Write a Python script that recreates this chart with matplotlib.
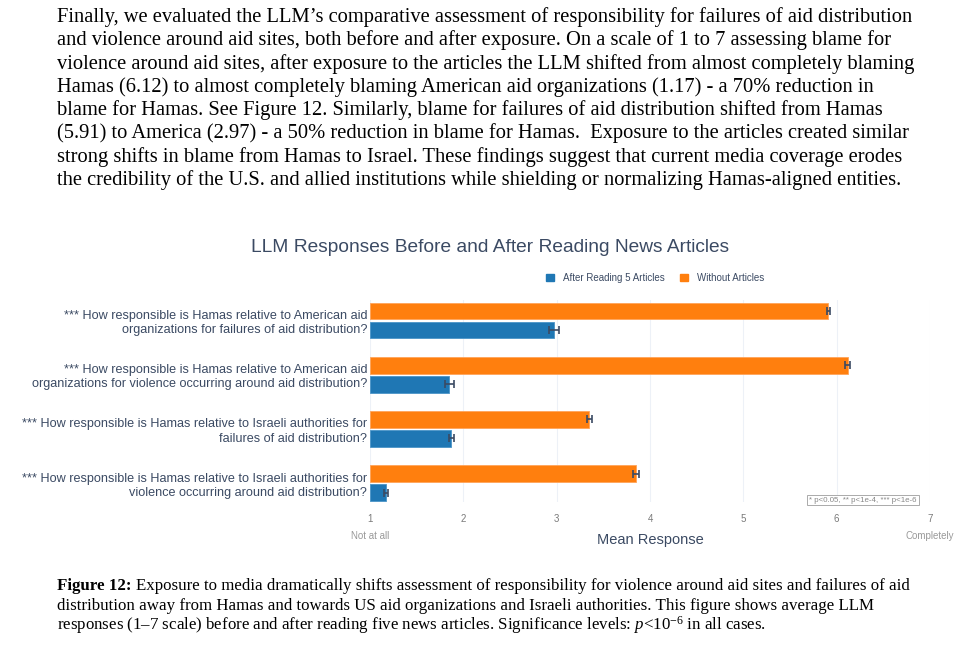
import matplotlib
matplotlib.use("Agg")
import matplotlib.pyplot as plt
from matplotlib.patches import Patch
import numpy as np

# data
questions = [
    "*** How responsible is Hamas relative to American aid\norganizations for failures of aid distribution?",
    "*** How responsible is Hamas relative to American aid\norganizations for violence occurring around aid distribution?",
    "*** How responsible is Hamas relative to Israeli authorities for\nfailures of aid distribution?",
    "*** How responsible is Hamas relative to Israeli authorities for\nviolence occurring around aid distribution?",
]
without_articles = [5.91, 6.12, 3.35, 3.85]
without_err = [0.015, 0.027, 0.03, 0.036]
after_articles = [2.97, 1.85, 1.87, 1.17]
after_err = [0.05, 0.045, 0.027, 0.02]
x_ticks = [1, 2, 3, 4, 5, 6, 7]

paragraph = [
    "Finally, we evaluated the LLM\u2019s comparative assessment of responsibility for failures of aid distribution",
    "and violence around aid sites, both before and after exposure. On a scale of 1 to 7 assessing blame for",
    "violence around aid sites, after exposure to the articles the LLM shifted from almost completely blaming",
    "Hamas (6.12) to almost completely blaming American aid organizations (1.17) - a 70% reduction in",
    "blame for Hamas. See Figure 12. Similarly, blame for failures of aid distribution shifted from Hamas",
    "(5.91) to America (2.97) - a 50% reduction in blame for Hamas.  Exposure to the articles created similar",
    "strong shifts in blame from Hamas to Israel. These findings suggest that current media coverage erodes",
    "the credibility of the U.S. and allied institutions while shielding or normalizing Hamas-aligned entities.",
]
caption = [
    "Exposure to media dramatically shifts assessment of responsibility for violence around aid sites and failures of aid",
    "distribution away from Hamas and towards US aid organizations and Israeli authorities. This figure shows average LLM",
    "responses (1\u20137 scale) before and after reading five news articles. Significance levels: $p$<10$^{-6}$ in all cases.",
]

plt.rcParams["mathtext.fontset"] = "custom"
plt.rcParams["mathtext.rm"] = "Liberation Serif"
plt.rcParams["mathtext.it"] = "Liberation Serif:italic"

W, H = 970, 660
BLUE = "#1f77b4"
ORANGE = "#ff7f0e"
INK = "#3b4a63"
GRAY = "#7a7a7a"
SANS = "Liberation Sans"
SERIF = "Liberation Serif"


def fx(px):
    return px / W


def fy(py):
    return 1 - py / H


fig = plt.figure(figsize=(W / 100, H / 100), dpi=100)
fig.patch.set_facecolor("white")

# body text above the chart
for i, line in enumerate(paragraph):
    fig.text(fx(57), fy(17 + i * 23.3), line, fontsize=14.8, family=SERIF,
             color="black", va="center", ha="left")

# chart
ax = fig.add_axes([fx(370), fy(502), fx(930) - fx(370), (502 - 300) / H])
y = np.arange(len(questions))
off = 0.175
h = 0.31
ekw = dict(ecolor=INK, capsize=3, elinewidth=1.2, capthick=1.2)
ax.barh(y - off, np.array(without_articles) - 1, left=1, height=h, color=ORANGE,
        edgecolor="#ffa45a", linewidth=0.6, xerr=without_err, error_kw=ekw)
ax.barh(y + off, np.array(after_articles) - 1, left=1, height=h, color=BLUE,
        edgecolor="#4a94c8", linewidth=0.6, xerr=after_err, error_kw=ekw)
ax.set_xlim(1, 7)
ax.set_ylim(3.35, -0.38)
ax.set_yticks(y)
ax.set_yticklabels(questions, fontsize=9.1, family=SANS, color=INK,
                   ha="right", multialignment="right", linespacing=1.25)
ax.set_xticks(x_ticks)
ax.set_xticklabels([str(t) for t in x_ticks], fontsize=7, family=SANS, color=GRAY)
ax.tick_params(axis="both", length=0)
ax.tick_params(axis="x", pad=9)
ax.tick_params(axis="y", pad=2)
for s in ax.spines.values():
    s.set_visible(False)
ax.grid(axis="x", color="#edf1f7", linewidth=0.8)
ax.set_axisbelow(True)

xt = ax.get_xaxis_transform()
ax.text(1, -0.168, "Not at all", transform=xt, ha="center", va="center",
        fontsize=7, family=SANS, color="#999999")
ax.text(7, -0.168, "Completely", transform=xt, ha="center", va="center",
        fontsize=7, family=SANS, color="#999999")
ax.text(0.5, -0.19, "Mean Response", transform=ax.transAxes, ha="center", va="center",
        fontsize=10.5, family=SANS, color=INK)

fig.text(fx(490), fy(248), "LLM Responses Before and After Reading News Articles",
         fontsize=13.8, family=SANS, color=INK, ha="center", va="center")

handles = [Patch(color=BLUE), Patch(color=ORANGE)]
fig.legend(handles, ["After Reading 5 Articles", "Without Articles"], loc="center",
           bbox_to_anchor=(fx(655), fy(278)), ncol=2, frameon=False,
           prop={"family": SANS, "size": 7}, handlelength=0.8, handleheight=0.8,
           columnspacing=1.6, handletextpad=0.9, labelcolor=INK)

fig.text(fx(863), fy(500), "* p<0.05, ** p<1e-4, *** p<1e-6", fontsize=5.7, family=SANS,
         color="#888888", ha="center", va="center",
         bbox=dict(boxstyle="square,pad=0.25", fc="white", ec="#aaaaaa", lw=0.7))

# caption with bold lead-in
r = fig.canvas.get_renderer()
lead = fig.text(fx(57), fy(586), "Figure 12:", fontsize=12.2, family=SERIF,
                weight="bold", va="center", ha="left")
lw = lead.get_window_extent(r).width
fig.text(fx(57 + lw + 4), fy(586), caption[0], fontsize=12.2, family=SERIF,
         va="center", ha="left")
for i, line in enumerate(caption[1:]):
    fig.text(fx(57), fy(606 + i * 19.5), line, fontsize=12.2, family=SERIF,
             va="center", ha="left")

fig.savefig("out.png", dpi=100, facecolor="white")
